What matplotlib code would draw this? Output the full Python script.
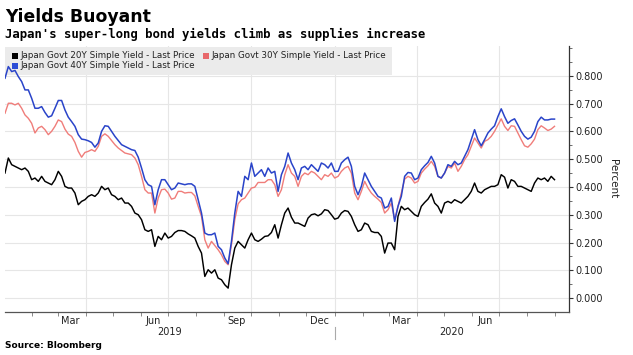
import matplotlib
matplotlib.use("Agg")
import matplotlib.pyplot as plt
import matplotlib.dates as mdates
from matplotlib.patches import Rectangle
from matplotlib.ticker import FixedLocator
import pandas as pd

# ---------------- data ----------------
dates = pd.date_range(start="2019-01-02", end="2020-08-31", periods=166)

series_names = ["Japan Govt 20Y Simple Yield - Last Price",
                "Japan Govt 30Y Simple Yield - Last Price",
                "Japan Govt 40Y Simple Yield - Last Price"]

yield_20y = [
    0.450, 0.504, 0.480, 0.474, 0.468, 0.462, 0.468, 0.456, 0.426, 0.432,
    0.420, 0.438, 0.420, 0.414, 0.408, 0.426, 0.456, 0.438, 0.402, 0.396,
    0.396, 0.378, 0.336, 0.348, 0.354, 0.366, 0.372, 0.366, 0.378, 0.402,
    0.390, 0.396, 0.372, 0.366, 0.354, 0.360, 0.342, 0.342, 0.330, 0.306,
    0.300, 0.282, 0.246, 0.240, 0.246, 0.186, 0.222, 0.210, 0.234, 0.216,
    0.222, 0.236, 0.243, 0.243, 0.240, 0.231, 0.224, 0.216, 0.186, 0.162,
    0.078, 0.102, 0.090, 0.102, 0.072, 0.066, 0.048, 0.036, 0.120, 0.180,
    0.204, 0.192, 0.180, 0.210, 0.234, 0.210, 0.204, 0.212, 0.222, 0.224,
    0.236, 0.264, 0.216, 0.264, 0.306, 0.324, 0.291, 0.270, 0.270, 0.264,
    0.258, 0.288, 0.300, 0.303, 0.296, 0.303, 0.318, 0.315, 0.300, 0.284,
    0.288, 0.306, 0.315, 0.312, 0.294, 0.264, 0.240, 0.246, 0.270, 0.264,
    0.240, 0.236, 0.236, 0.222, 0.162, 0.198, 0.198, 0.174, 0.294, 0.330,
    0.318, 0.324, 0.312, 0.300, 0.294, 0.330, 0.344, 0.356, 0.375, 0.342,
    0.330, 0.306, 0.342, 0.348, 0.342, 0.354, 0.348, 0.342, 0.354, 0.366,
    0.384, 0.414, 0.384, 0.378, 0.390, 0.396, 0.402, 0.402, 0.408, 0.444,
    0.435, 0.396, 0.426, 0.420, 0.402, 0.402, 0.396, 0.390, 0.384, 0.414,
    0.432, 0.426, 0.432, 0.420, 0.438, 0.426,
]

yield_30y = [
    0.665, 0.701, 0.701, 0.695, 0.701, 0.683, 0.659, 0.647, 0.629, 0.594,
    0.612, 0.618, 0.606, 0.588, 0.600, 0.618, 0.641, 0.635, 0.608, 0.590,
    0.582, 0.560, 0.528, 0.507, 0.524, 0.528, 0.534, 0.528, 0.546, 0.582,
    0.591, 0.582, 0.567, 0.552, 0.540, 0.531, 0.522, 0.519, 0.516, 0.504,
    0.480, 0.438, 0.390, 0.378, 0.378, 0.306, 0.360, 0.390, 0.392, 0.378,
    0.356, 0.360, 0.384, 0.384, 0.378, 0.380, 0.380, 0.368, 0.330, 0.294,
    0.210, 0.180, 0.204, 0.189, 0.174, 0.156, 0.132, 0.120, 0.192, 0.282,
    0.339, 0.354, 0.360, 0.378, 0.396, 0.399, 0.416, 0.416, 0.416, 0.426,
    0.426, 0.408, 0.366, 0.390, 0.444, 0.480, 0.450, 0.438, 0.402, 0.438,
    0.450, 0.444, 0.456, 0.450, 0.438, 0.426, 0.444, 0.438, 0.450, 0.432,
    0.438, 0.456, 0.468, 0.474, 0.450, 0.378, 0.354, 0.384, 0.420, 0.396,
    0.378, 0.366, 0.356, 0.344, 0.306, 0.318, 0.342, 0.282, 0.330, 0.378,
    0.428, 0.438, 0.432, 0.414, 0.420, 0.450, 0.464, 0.476, 0.492, 0.474,
    0.438, 0.432, 0.450, 0.474, 0.468, 0.486, 0.456, 0.474, 0.498, 0.516,
    0.546, 0.576, 0.558, 0.540, 0.564, 0.570, 0.582, 0.600, 0.623, 0.645,
    0.618, 0.603, 0.620, 0.618, 0.594, 0.570, 0.548, 0.543, 0.555, 0.572,
    0.606, 0.620, 0.612, 0.603, 0.608, 0.618,
]

yield_40y = [
    0.791, 0.833, 0.815, 0.819, 0.797, 0.779, 0.749, 0.749, 0.719, 0.683,
    0.683, 0.689, 0.668, 0.651, 0.656, 0.683, 0.711, 0.711, 0.677, 0.651,
    0.635, 0.618, 0.588, 0.572, 0.570, 0.566, 0.560, 0.543, 0.558, 0.600,
    0.620, 0.618, 0.600, 0.582, 0.567, 0.552, 0.546, 0.540, 0.534, 0.531,
    0.507, 0.468, 0.426, 0.408, 0.402, 0.336, 0.390, 0.426, 0.426, 0.408,
    0.390, 0.396, 0.414, 0.411, 0.408, 0.411, 0.411, 0.402, 0.354, 0.306,
    0.234, 0.228, 0.228, 0.234, 0.186, 0.174, 0.144, 0.124, 0.204, 0.306,
    0.384, 0.366, 0.438, 0.426, 0.486, 0.438, 0.450, 0.462, 0.438, 0.468,
    0.450, 0.456, 0.384, 0.444, 0.474, 0.522, 0.486, 0.462, 0.426, 0.468,
    0.474, 0.462, 0.480, 0.468, 0.456, 0.486, 0.480, 0.468, 0.486, 0.456,
    0.456, 0.486, 0.498, 0.507, 0.474, 0.402, 0.372, 0.402, 0.450, 0.426,
    0.402, 0.384, 0.366, 0.360, 0.324, 0.330, 0.360, 0.276, 0.330, 0.366,
    0.438, 0.452, 0.450, 0.426, 0.432, 0.462, 0.476, 0.488, 0.510, 0.486,
    0.438, 0.432, 0.450, 0.480, 0.474, 0.492, 0.480, 0.486, 0.510, 0.534,
    0.570, 0.606, 0.570, 0.548, 0.570, 0.594, 0.608, 0.620, 0.653, 0.681,
    0.653, 0.629, 0.639, 0.645, 0.623, 0.600, 0.582, 0.572, 0.579, 0.600,
    0.635, 0.651, 0.641, 0.641, 0.644, 0.644,
]

y_ticks = [0.0, 0.1, 0.2, 0.3, 0.4, 0.5, 0.6, 0.7, 0.8]
month_labels = ["Mar", "Jun", "Sep", "Dec", "Mar", "Jun"]
month_label_dates = ["2019-03-15", "2019-06-15", "2019-09-15", "2019-12-15",
                     "2020-03-15", "2020-06-15"]
year_labels = ["2019", "2020"]

# ---------------- style ----------------
C20 = "#000000"
C30 = "#f07d7a"
C40 = "#2a44c9"
L20 = "#000000"
L30 = "#e8686b"
L40 = "#2b4cd6"
TXT = "#222222"
GRID = "#e6e6e6"

W, H = 633, 355
fig = plt.figure(figsize=(W / 100, H / 100), dpi=100)
fig.patch.set_facecolor("white")

ax_l, ax_r, ax_t, ax_b = 5, 569, 46, 312
ax = fig.add_axes([ax_l / W, 1 - ax_b / H, (ax_r - ax_l) / W, (ax_b - ax_t) / H])

x_start = pd.Timestamp("2019-01-02")
x_end = pd.Timestamp("2020-09-16")
ax.set_xlim(x_start, x_end)
ax.set_ylim(-0.05, 0.907)

# gridlines
for d in ["2019-04-01", "2019-07-01", "2019-10-01", "2020-01-01", "2020-04-01", "2020-07-01"]:
    ax.axvline(pd.Timestamp(d), color=GRID, lw=0.8, zorder=0)
for v in y_ticks:
    ax.axhline(v, color=GRID, lw=0.8, zorder=0)

# legend background (under the lines)
lg_x0, lg_x1, lg_y0, lg_y1 = 5, 392, 46.5, 75
ax.add_patch(Rectangle((lg_x0 / W, 1 - lg_y1 / H), (lg_x1 - lg_x0) / W, (lg_y1 - lg_y0) / H,
                       transform=fig.transFigure, facecolor="#ebebeb", edgecolor="none",
                       zorder=0.5, clip_on=False))

ax.plot(dates, yield_20y, color=C20, lw=1.05, zorder=2)
ax.plot(dates, yield_30y, color=C30, lw=1.0, zorder=2)
ax.plot(dates, yield_40y, color=C40, lw=1.1, zorder=2.1)

# legend entries
entries = [(series_names[0], L20, 12, 55.7),
           (series_names[1], L30, 203, 55.7),
           (series_names[2], L40, 12, 66.0)]
for name, col, px, py in entries:
    fig.patches.append(Rectangle((px / W, 1 - (py + 3) / H), 6 / W, 6 / H,
                                 transform=fig.transFigure, facecolor=col,
                                 edgecolor="none", zorder=5))
    fig.text((px + 8) / W, 1 - py / H, name, fontsize=6.3, color=TXT,
             va="center", ha="left", zorder=5)

# spines
for s in ["top", "left"]:
    ax.spines[s].set_visible(False)
ax.spines["right"].set_color("#333333")
ax.spines["bottom"].set_color("#555555")
ax.spines["right"].set_linewidth(0.9)
ax.spines["bottom"].set_linewidth(0.9)

# y axis on right
ax.yaxis.tick_right()
ax.yaxis.set_label_position("right")
ax.yaxis.set_major_locator(FixedLocator(y_ticks))
ax.yaxis.set_minor_locator(FixedLocator([0.05, 0.15, 0.25, 0.35, 0.45, 0.55, 0.65, 0.75, 0.85, 0.9]))
ax.set_yticklabels([f"{v:.3f}" for v in y_ticks])
ax.tick_params(axis="y", which="major", direction="out", length=3, width=0.8,
               colors="#333333", labelcolor=TXT, labelsize=7, pad=1.5)
ax.tick_params(axis="y", which="minor", direction="out", length=2.5, width=0.6, colors="#555555")
ax.set_ylabel("Percent", rotation=270, fontsize=7.5, color=TXT, labelpad=11)

# x axis
ax.xaxis.set_major_locator(FixedLocator(mdates.date2num(pd.to_datetime(month_label_dates))))
ax.set_xticklabels(month_labels)
ax.xaxis.set_minor_locator(mdates.MonthLocator())
ax.tick_params(axis="x", which="major", length=0, labelsize=7, labelcolor=TXT, pad=3)
ax.tick_params(axis="x", which="minor", direction="out", length=3, width=0.6, colors="#777777")

# year labels and separator
jan2020 = pd.Timestamp("2020-01-01")
mid2019 = x_start + (jan2020 - x_start) / 2
mid2020 = jan2020 + (x_end - jan2020) / 2
trans = ax.get_xaxis_transform()
yr_y = -(332.3 - ax_b) / (ax_b - ax_t)
ax.text(mid2019, yr_y, year_labels[0], transform=trans, ha="center", va="center",
        fontsize=7, color=TXT)
ax.text(mid2020, yr_y, year_labels[1], transform=trans, ha="center", va="center",
        fontsize=7, color=TXT)
ax.plot([jan2020, jan2020], [-(326.5 - ax_b) / (ax_b - ax_t), -(338.5 - ax_b) / (ax_b - ax_t)],
        transform=trans, color="#aaaaaa", lw=0.8, clip_on=False)

# titles
fig.text(5 / W, 1 - 21.5 / H, "Yields Buoyant", fontsize=12.4, fontweight="bold",
         color="#000000", ha="left", va="baseline")
fig.text(5 / W, 1 - 37.7 / H, "Japan's super-long bond yields climb as supplies increase",
         fontsize=8.8, fontweight="bold", family="DejaVu Sans Mono", color="#000000",
         ha="left", va="baseline")
fig.text(5 / W, 1 - 345 / H, "Source: Bloomberg", fontsize=6.5, fontweight="bold",
         color="#000000", ha="left", va="center")

fig.savefig("out.png", dpi=100, facecolor="white")
